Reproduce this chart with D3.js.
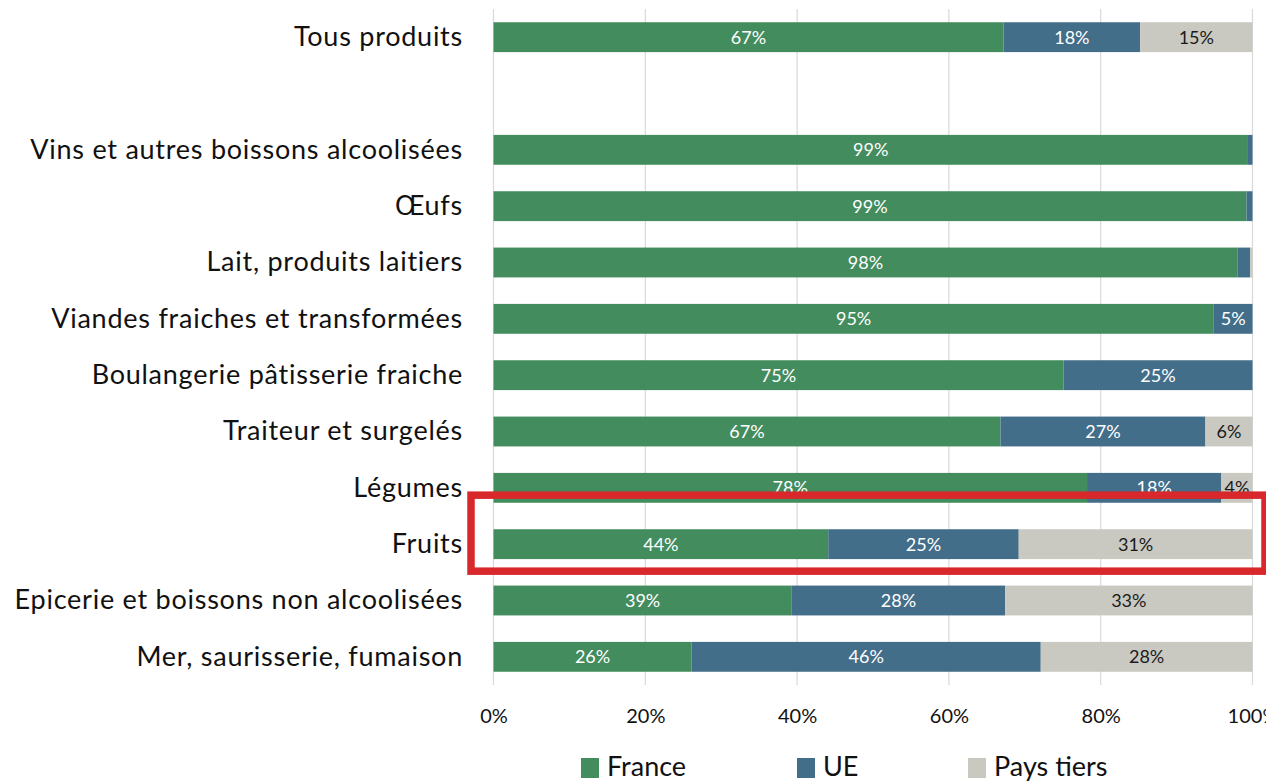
<!DOCTYPE html>
<html><head><meta charset="utf-8">
<script src="https://cdn.jsdelivr.net/npm/d3@7"></script>
<style>
html,body{margin:0;padding:0;background:#fff;overflow:hidden}
svg{display:block;font-family:Lato,"Open Sans",sans-serif}
</style></head>
<body><svg id="c" width="1266" height="781"></svg>
<script>
const categories = ["Tous produits", "", "Vins et autres boissons alcoolisées", "Œufs", "Lait, produits laitiers",
  "Viandes fraiches et transformées", "Boulangerie pâtisserie fraiche", "Traiteur et surgelés",
  "Légumes", "Fruits", "Epicerie et boissons non alcoolisées", "Mer, saurisserie, fumaison"];
const france     = [0.672, null, 0.994, 0.992, 0.980, 0.949, 0.751, 0.668, 0.782, 0.441, 0.393, 0.261];
const ue         = [0.180, null, 0.006, 0.008, 0.017, 0.051, 0.249, 0.270, 0.177, 0.251, 0.281, 0.460];
const paysTiers  = [0.148, null, 0.000, 0.000, 0.003, 0.000, 0.000, 0.062, 0.041, 0.308, 0.326, 0.279];
const seriesNames = ["France", "UE", "Pays tiers"];
const xTicks = [0, 0.2, 0.4, 0.6, 0.8, 1];
const highlighted = "Fruits";

const colors = {"France":"#438C5E","UE":"#436E8A","Pays tiers":"#C9C9C2"};
const labelColors = {"France":"#ffffff","UE":"#ffffff","Pays tiers":"#1a1a1a"};

const svg = d3.select("#c");
const plotLeft = 493.5, plotRight = 1252.5, plotTop = 9, plotBottom = 685;
const x = d3.scaleLinear().domain([0,1]).range([plotLeft,plotRight]);
const y = d3.scaleBand().domain(categories.map((c,i)=>i)).range([plotTop,plotBottom]).paddingInner(0.47).paddingOuter(0.235);

// gridlines
svg.append("g").selectAll("line").data(xTicks).join("line")
  .attr("x1",d=>x(d)).attr("x2",d=>x(d)).attr("y1",plotTop).attr("y2",plotBottom)
  .attr("stroke","#d9d9d9").attr("stroke-width",1.2);

// stack
const rows = categories.map((c,i)=>({i, c, "France":france[i], "UE":ue[i], "Pays tiers":paysTiers[i]})).filter(r=>r.France!=null);
const stack = d3.stack().keys(seriesNames)(rows);

const gBars = svg.append("g");
stack.forEach(layer=>{
  const key = layer.key;
  gBars.append("g").selectAll("rect").data(layer).join("rect")
    .attr("x",d=>x(d[0])).attr("width",d=>Math.max(0,x(d[1])-x(d[0])))
    .attr("y",d=>y(d.data.i)).attr("height",y.bandwidth())
    .attr("fill",colors[key]);
  gBars.append("g").selectAll("text").data(layer.filter(d=>d[1]-d[0]>=0.03)).join("text")
    .attr("x",d=>x((d[0]+d[1])/2)).attr("y",d=>y(d.data.i)+y.bandwidth()/2)
    .attr("dy","0.37em").attr("text-anchor","middle")
    .attr("font-size",18).attr("fill",labelColors[key])
    .text(d=>d3.format(".0%")(d[1]-d[0]));
});

// category labels
svg.append("g").selectAll("text").data(categories.map((c,i)=>({c,i})).filter(d=>d.c)).join("text")
  .attr("x",463).attr("y",d=>y(d.i)+y.bandwidth()/2).attr("dy","0.33em")
  .attr("text-anchor","end").attr("font-size",27).attr("letter-spacing",0.75).attr("fill","#111")
  .text(d=>d.c);

// x axis tick labels
const ax = svg.append("g").attr("transform",`translate(0,${plotBottom})`)
  .call(d3.axisBottom(x).tickValues(xTicks).tickFormat(d3.format(".0%")).tickSize(0).tickPadding(24));
ax.select(".domain").remove();
ax.selectAll("text").attr("font-size",20).attr("fill","#111").attr("font-family","Lato,'Open Sans',sans-serif");

// legend
const legX = [581, 797, 968];
const leg = svg.append("g").selectAll("g").data(seriesNames).join("g")
  .attr("transform",(d,i)=>`translate(${legX[i]},766)`);
leg.append("rect").attr("x",0).attr("y",-8).attr("width",18).attr("height",20).attr("fill",d=>colors[d]);
leg.append("text").attr("x",26).attr("y",0).attr("dy","0.36em").attr("font-size",27).attr("fill","#111").text(d=>d);

// highlight box
const hi = categories.indexOf(highlighted);
const cy = y(hi)+y.bandwidth()/2;
svg.append("rect").attr("x",471).attr("y",cy-49).attr("width",794).attr("height",76)
  .attr("fill","none").attr("stroke","#D9282B").attr("stroke-width",7.5);
</script></body></html>
